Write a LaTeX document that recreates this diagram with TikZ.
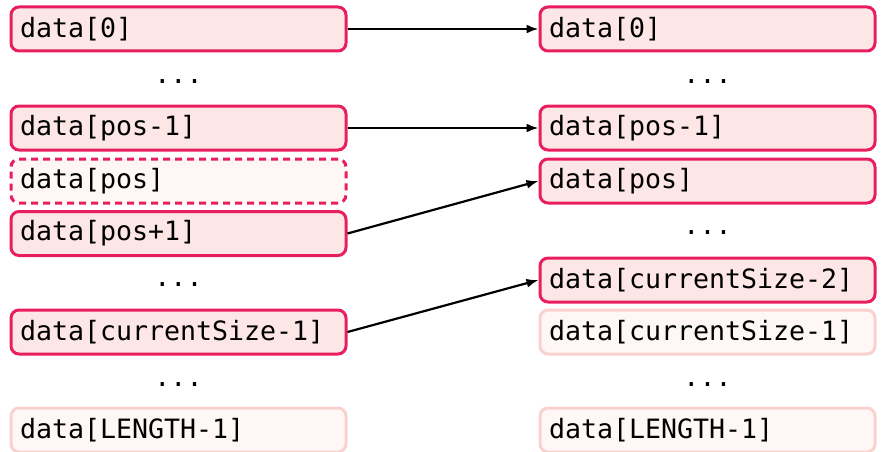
\documentclass[tikz,border=0pt]{standalone}
\usepackage{fontspec}
\setmonofont{DejaVu Sans Mono}
\usetikzlibrary{arrows.meta}
\definecolor{crim}{HTML}{E91E5F}
\definecolor{cellfill}{HTML}{FDE6E6}
\definecolor{ghostfill}{HTML}{FEF7F5}
\definecolor{ghostline}{HTML}{F8D3CE}
\tikzset{
  base/.style={rectangle, rounded corners=8pt, line width=3pt, minimum width=335pt, minimum height=44pt,
    text width=317pt, align=left, inner xsep=9pt, inner ysep=0pt,
    font=\fontsize{26.6}{30}\selectfont\ttfamily},
  cell/.style={base, draw=crim, fill=cellfill},
  ghost/.style={base, draw=ghostline, fill=ghostfill},
  gone/.style={base, draw=crim, fill=ghostfill, dash pattern=on 7pt off 5pt},
  dots/.style={anchor=base, inner sep=0pt, font=\fontsize{26.6}{30}\selectfont\ttfamily},
  link/.style={line width=2.2pt, -{Latex[length=12pt,width=9pt]}}
}
\begin{document}
\begin{tikzpicture}[x=1pt,y=-1pt]
\useasboundingbox (0,0) rectangle (883,452);
% left column
\node[cell] (l0) at (178.5,29) {data[0]};
\node[dots] (ld1) at (178.5,83) {...};
\node[cell] (lpm) at (178.5,128) {data[pos-1]};
\node[gone] (lp) at (178.5,181) {data[pos]};
\node[cell] (lpp) at (178.5,233.5) {data[pos+1]};
\node[dots] (ld2) at (178.5,286) {...};
\node[cell] (lcs) at (178.5,332) {data[currentSize-1]};
\node[dots] (ld3) at (178.5,386) {...};
\node[ghost] (llen) at (178.5,430) {data[LENGTH-1]};
% right column
\node[cell] (r0) at (707.5,29) {data[0]};
\node[dots] (rd1) at (707.5,83) {...};
\node[cell] (rpm) at (707.5,128) {data[pos-1]};
\node[cell] (rp) at (707.5,181) {data[pos]};
\node[dots] (rd2) at (707.5,234) {...};
\node[cell] (rcs2) at (707.5,280) {data[currentSize-2]};
\node[ghost] (rcs1) at (707.5,332) {data[currentSize-1]};
\node[dots] (rd3) at (707.5,386) {...};
\node[ghost] (rlen) at (707.5,430) {data[LENGTH-1]};
% arrows
\draw[link] (l0.east) -- (r0.west);
\draw[link] (lpm.east) -- (rpm.west);
\draw[link] (lpp.east) -- (rp.west);
\draw[link] (lcs.east) -- (rcs2.west);
\end{tikzpicture}
\end{document}
